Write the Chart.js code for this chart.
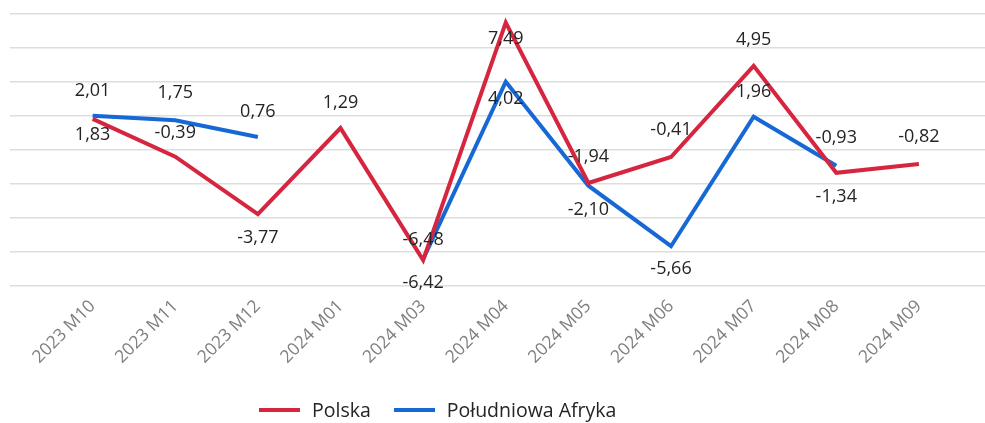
<!DOCTYPE html>
<html>
<head>
<meta charset="utf-8">
<script src="https://cdn.jsdelivr.net/npm/chart.js@4"></script>
<style>
  html, body { margin: 0; padding: 0; background: #fff; }
  #wrap { position: relative; width: 985px; height: 423px; }
  #legend {
    position: absolute; left: 259px; top: 396px; display: flex; align-items: center;
    font-family: 'Open Sans', sans-serif; font-size: 19.5px; color: #252423;
  }
  #legend .item { display: flex; align-items: center; margin-right: 23px; }
  #legend .swatch { width: 41px; height: 4px; margin-right: 12px; }
</style>
</head>
<body>
<div id="wrap">
  <canvas id="chart" width="985" height="423"></canvas>
  <div id="legend"></div>
</div>
<script>
var categories = ['2023 M10', '2023 M11', '2023 M12', '2024 M01', '2024 M03', '2024 M04',
                  '2024 M05', '2024 M06', '2024 M07', '2024 M08', '2024 M09'];
var polska = [1.83, -0.39, -3.77, 1.29, -6.48, 7.49, -1.94, -0.41, 4.95, -1.34, -0.82];
var afryka = [2.01, 1.75, 0.76, null, -6.42, 4.02, -2.10, -5.66, 1.96, -0.93, null];
var seriesNames = ['Polska', 'Południowa Afryka'];

// vertical offset of each value label from its point (px)
var polskaLabelDy = [16, -24, 24, -25, -20, 16, -26, -27, -26, 24, -27];
var afrykaLabelDy = [-25, -27, -25, 0, 24, 17, 24, 23, -25, -28, 0];

var colors = ['#D6263F', '#1668D4'];

function toPoints(values) {
    return values.map(function (v, i) { return { x: i, y: v }; });
}

// draws the value next to every point, comma as decimal separator
var valueLabels = {
    id: 'valueLabels',
    afterDatasetsDraw: function (chart) {
        var ctx = chart.ctx;
        ctx.save();
        ctx.font = '18px "Open Sans"';
        ctx.fillStyle = '#252423';
        ctx.textAlign = 'center';
        ctx.textBaseline = 'middle';
        chart.data.datasets.forEach(function (ds, di) {
            var meta = chart.getDatasetMeta(di);
            meta.data.forEach(function (pt, i) {
                var v = ds.data[i].y;
                if (v === null) return;
                ctx.fillText(v.toFixed(2).replace('.', ','), pt.x, pt.y + ds.labelDy[i]);
            });
        });
        ctx.restore();
    }
};

var ctx = document.getElementById('chart').getContext('2d');
var chart = new Chart(ctx, {
    type: 'line',
    data: {
        datasets: [{
            label: seriesNames[0],
            data: toPoints(polska),
            borderColor: colors[0],
            backgroundColor: colors[0],
            borderWidth: 4,
            pointRadius: 0,
            tension: 0,
            labelDy: polskaLabelDy
        }, {
            label: seriesNames[1],
            data: toPoints(afryka),
            borderColor: colors[1],
            backgroundColor: colors[1],
            borderWidth: 4,
            pointRadius: 0,
            tension: 0,
            labelDy: afrykaLabelDy
        }]
    },
    options: {
        responsive: false,
        animation: false,
        layout: { padding: { left: 10, top: 14, right: 0, bottom: 0 } },
        plugins: {
            legend: { display: false },
            tooltip: { enabled: false }
        },
        scales: {
            x: {
                type: 'linear',
                min: -1,
                max: 10.8,
                grid: { display: false },
                border: { display: false },
                afterBuildTicks: function (scale) {
                    scale.ticks = categories.map(function (c, i) { return { value: i }; });
                },
                afterFit: function (scale) { scale.height = 137; },
                ticks: {
                    autoSkip: false,
                    minRotation: 45,
                    maxRotation: 45,
                    padding: 2,
                    color: '#7f7f7f',
                    font: { family: 'Open Sans', size: 17.5 },
                    callback: function (value) { return categories[value]; }
                }
            },
            y: {
                min: -8,
                max: 8,
                ticks: { stepSize: 2, display: false },
                grid: { color: '#dedede', lineWidth: 1.5, drawTicks: false },
                border: { display: false },
                afterFit: function (scale) { scale.width = 0; }
            }
        }
    },
    plugins: [valueLabels]
});

// legend below the plot
var legend = document.getElementById('legend');
seriesNames.forEach(function (name, i) {
    var item = document.createElement('div');
    item.className = 'item';
    var sw = document.createElement('span');
    sw.className = 'swatch';
    sw.style.background = colors[i];
    var txt = document.createElement('span');
    txt.textContent = name;
    item.appendChild(sw);
    item.appendChild(txt);
    legend.appendChild(item);
});
</script>
</body>
</html>
